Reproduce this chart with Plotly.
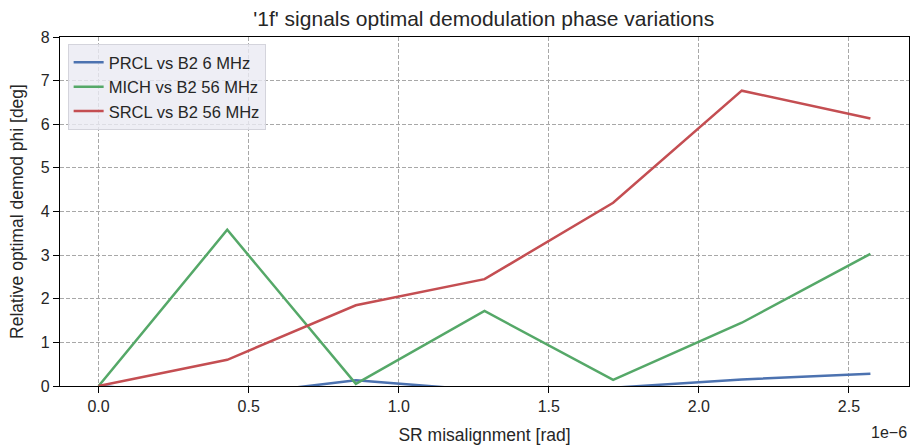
import plotly.graph_objects as go

# SR misalignment in units of 1e-6 rad
misalignment_e6 = [0.0, 0.4286, 0.8571, 1.2857, 1.7143, 2.1429, 2.5714]
prcl_b2_6mhz = [0.0, -0.22, 0.13, -0.1, -0.04, 0.15, 0.28]
mich_b2_56mhz = [0.0, 3.58, 0.05, 1.72, 0.14, 1.45, 3.03]
srcl_b2_56mhz = [0.0, 0.60, 1.85, 2.45, 4.20, 6.77, 6.13]

series_names = ["PRCL vs B2 6 MHz", "MICH vs B2 56 MHz", "SRCL vs B2 56 MHz"]
series_values = [prcl_b2_6mhz, mich_b2_56mhz, srcl_b2_56mhz]
series_colors = ["#4C72B0", "#55A868", "#C44E52"]

x_ticks = [0.0, 0.5, 1.0, 1.5, 2.0, 2.5]
x_ticklabels = ["0.0", "0.5", "1.0", "1.5", "2.0", "2.5"]
y_ticks = [0, 1, 2, 3, 4, 5, 6, 7, 8]

FONT = "Liberation Sans, Arial, sans-serif"
TXT = "#262626"

fig = go.Figure()
for name, vals, col in zip(series_names, series_values, series_colors):
    fig.add_trace(go.Scatter(x=misalignment_e6, y=vals, mode="lines", name=name,
                             line=dict(color=col, width=2.5)))

xmin = -0.05 * misalignment_e6[-1]
xmax = misalignment_e6[-1] * 1.05

axis_common = dict(
    showline=True, linecolor="#000000", linewidth=1.3, mirror=True,
    ticks="outside", ticklen=6, tickcolor="#000000", tickwidth=1.2,
    showgrid=True, gridcolor="#a8a8a8", griddash="4px,2px", gridwidth=1,
    zeroline=False, automargin=False,
    tickfont=dict(size=16, color=TXT, family=FONT),
)

fig.update_layout(
    width=911, height=446,
    paper_bgcolor="white", plot_bgcolor="white",
    margin=dict(l=60, r=2, t=37, b=60),
    font=dict(family=FONT, color=TXT),
    title=dict(text="'1f' signals optimal demodulation phase variations",
               x=0.531, xanchor="center", y=0.958, yanchor="middle",
               font=dict(size=21, color=TXT, family=FONT)),
    xaxis=dict(range=[xmin, xmax], tickvals=x_ticks, ticktext=x_ticklabels,
               title=dict(text="SR misalignment [rad]", font=dict(size=17.5, color=TXT), standoff=14),
               **axis_common),
    yaxis=dict(range=[0, 8], tickvals=y_ticks,
               title=dict(text="Relative optimal demod phi [deg]", font=dict(size=17.5, color=TXT), standoff=12),
               **axis_common),
    legend=dict(x=0.009, y=0.98, xanchor="left", yanchor="top",
                bgcolor="rgba(234,234,242,0.8)", bordercolor="#d4d4dc", borderwidth=1,
                font=dict(size=16.5, color=TXT, family=FONT), tracegroupgap=0,
                itemwidth=30),
    showlegend=True,
)

fig.add_annotation(text="1e\u22126", xref="paper", yref="paper", x=1.0, y=-0.103,
                   xanchor="right", yanchor="top", showarrow=False,
                   font=dict(size=16, color=TXT, family=FONT))

fig.write_html("out.html", config={"displayModeBar": False},
               post_script="document.body.style.margin='0';")
